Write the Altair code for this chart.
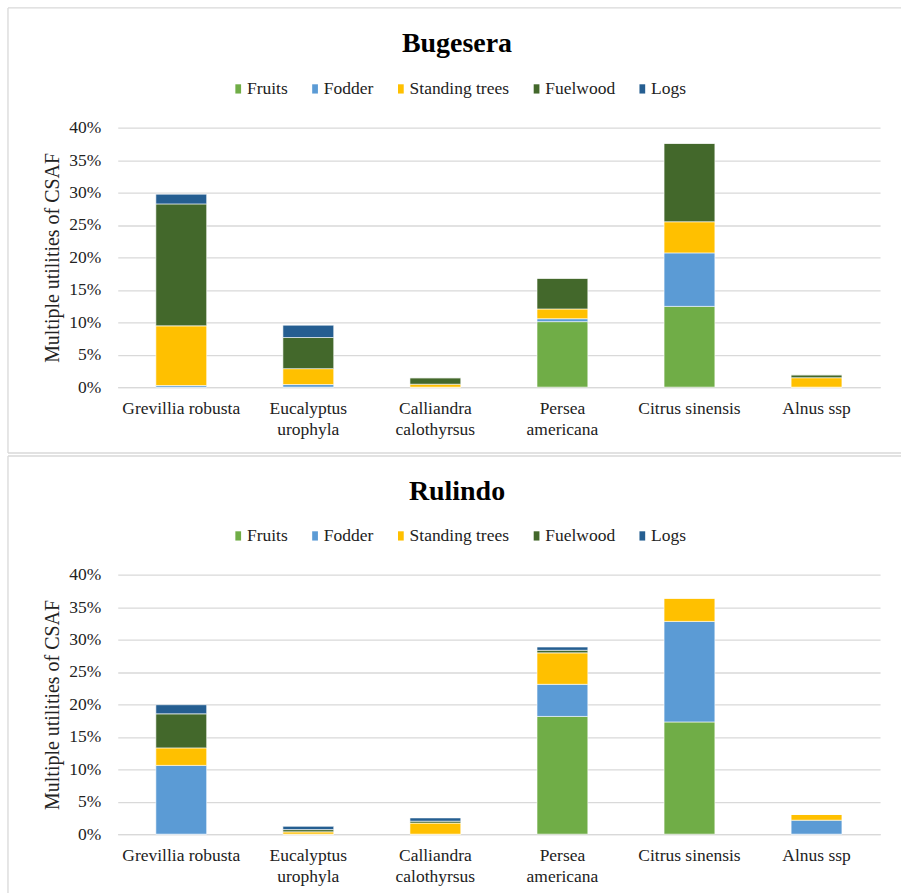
import altair as alt
import pandas as pd

# ---- data (percent of CSAF) ----
species = ["Grevillia robusta", "Eucalyptus urophyla", "Calliandra calothyrsus",
           "Persea americana", "Citrus sinensis", "Alnus ssp"]
uses = ["Fruits", "Fodder", "Standing trees", "Fuelwood", "Logs"]
use_colors = ["#70AD47", "#5B9BD5", "#FFC000", "#43682B", "#255E91"]

bug_fruits   = [0.0, 0.0, 0.0, 10.1, 12.45, 0.0]
bug_fodder   = [0.25, 0.4, 0.0, 0.45, 8.25, 0.0]
bug_standing = [9.2, 2.45, 0.45, 1.5, 4.8, 1.45]
bug_fuelwood = [18.8, 4.8, 1.0, 4.75, 12.1, 0.45]
bug_logs     = [1.5, 1.9, 0.0, 0.0, 0.0, 0.0]

rul_fruits   = [0.0, 0.0, 0.0, 18.15, 17.3, 0.0]
rul_fodder   = [10.6, 0.0, 0.0, 4.95, 15.5, 2.15]
rul_standing = [2.7, 0.35, 1.7, 4.85, 3.6, 0.9]
rul_fuelwood = [5.25, 0.35, 0.3, 0.4, 0.0, 0.0]
rul_logs     = [1.4, 0.5, 0.5, 0.5, 0.0, 0.0]

y_ticks = [0, 0.05, 0.10, 0.15, 0.20, 0.25, 0.30, 0.35, 0.40]
wrapped = ["Eucalyptus urophyla", "Calliandra calothyrsus", "Persea americana"]

FONT = "Liberation Serif"
TXT = "#222222"
GRID = "#d9d9d9"


def frame(series):
    rows = []
    for u_i, (u, vals) in enumerate(zip(uses, series)):
        for s, v in zip(species, vals):
            rows.append({"species": s, "use": u, "order": u_i, "value": v / 100.0})
    return pd.DataFrame(rows)


def border_rule(x, x2, y, y2):
    return alt.Chart(alt.Data(values=[{"k": 1}])).mark_rule(
        color=GRID, strokeWidth=1.3
    ).encode(x=alt.value(x), x2=alt.value(x2), y=alt.value(y), y2=alt.value(y2))


def panel(name, series, top_rel, bottom_rel, draw_bottom):
    df = frame(series)
    label_expr = ("indexof(" + str(wrapped) + ", datum.label) >= 0 ? "
                  "split(datum.label, ' ') : datum.label")
    bars = alt.Chart(df).mark_bar(stroke="white", strokeWidth=0.6).encode(
        x=alt.X("species:N", sort=species,
                scale=alt.Scale(paddingInner=0.6, paddingOuter=0.3),
                axis=alt.Axis(title=None, labelAngle=0, labelExpr=label_expr,
                              labelFont=FONT, labelFontSize=17.5, labelColor=TXT,
                              labelLineHeight=21, labelPadding=12,
                              ticks=False, domainColor=GRID, domainWidth=1.3,
                              grid=False)),
        y=alt.Y("value:Q", stack="zero",
                scale=alt.Scale(domain=[0, 0.4], nice=False),
                axis=alt.Axis(title="Multiple utilities of CSAF", values=y_ticks,
                              format=".0%", labelFont=FONT, labelFontSize=17.5,
                              labelColor=TXT, labelPadding=17, ticks=False,
                              domain=False, gridColor=GRID, gridWidth=1.3,
                              titleFont=FONT, titleFontSize=20,
                              titleFontWeight="normal", titleColor=TXT,
                              titlePadding=6)),
        color=alt.Color("use:N", sort=uses,
                        scale=alt.Scale(domain=uses, range=use_colors),
                        legend=alt.Legend(title=None, orient="none",
                                          direction="horizontal",
                                          legendX=112, legendY=-48,
                                          labelFont=FONT, labelFontSize=17.5,
                                          labelColor=TXT, labelOffset=0,
                                          columnPadding=18,
                                          symbolType="M-0.62,-1H0.62V1H-0.62Z",
                                          symbolSize=86, symbolStrokeWidth=0)),
        order=alt.Order("order:Q", sort="ascending"),
    )
    layers = [
        border_rule(-110, 785, top_rel, top_rel),
        border_rule(-110, -110, top_rel, bottom_rel),
        bars,
    ]
    if draw_bottom:
        layers.insert(0, border_rule(-110, 785, bottom_rel, bottom_rel))
    return alt.layer(*layers).properties(
        width=764, height=260,
        title=alt.TitleParams(name, font=FONT, fontSize=28, fontWeight="bold",
                              color="#000000", anchor="middle", dx=-42,
                              offset=-51),
    )


top = panel("Bugesera",
            [bug_fruits, bug_fodder, bug_standing, bug_fuelwood, bug_logs],
            -120, 326, True)
bottom = panel("Rulindo",
               [rul_fruits, rul_fodder, rul_standing, rul_fuelwood, rul_logs],
               -119, 319, False)

chart = alt.vconcat(top, bottom, spacing=1).resolve_scale(
    color="independent"
).resolve_legend(
    color="independent"
).properties(
    padding={"left": 7, "top": 6, "right": 0, "bottom": 0},
    background="white",
).configure_view(stroke=None).configure_concat(spacing=1)

chart.save("out.html", embed_options={"renderer": "svg", "actions": False})
